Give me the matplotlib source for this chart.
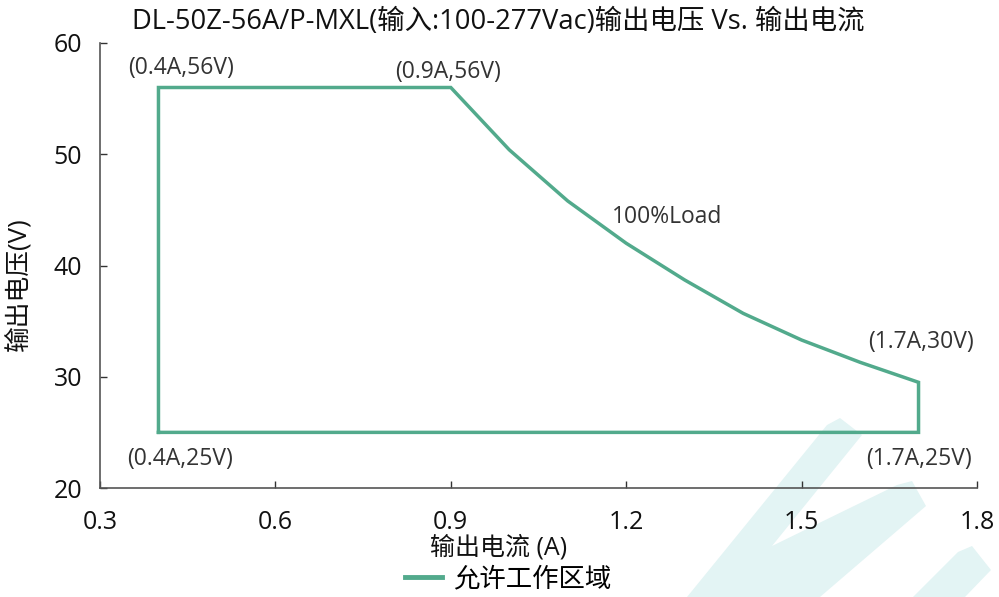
import matplotlib
matplotlib.use("Agg")
import matplotlib.pyplot as plt
from matplotlib.patches import Polygon
from matplotlib.lines import Line2D

plt.rcParams["font.family"] = ["Open Sans", "Noto Sans CJK SC", "DejaVu Sans"]

# boundary of the allowed operating area (current A, voltage V)
current = [0.4, 0.4, 0.9, 1.0, 1.1, 1.2, 1.3, 1.4, 1.5, 1.6, 1.7, 1.7, 0.4]
voltage = [25, 56, 56, 50.4, 45.8, 42.0, 38.7, 35.7, 33.3, 31.3, 29.5, 25, 25]

labels = ["(0.4A,56V)", "(0.9A,56V)", "100%Load", "(1.7A,30V)", "(1.7A,25V)", "(0.4A,25V)"]
label_x = [0.348, 0.805, 1.176, 1.613, 1.61, 0.346]
label_y = [57.75, 57.4, 44.4, 33.1, 22.6, 22.6]

xticks = [0.3, 0.6, 0.9, 1.2, 1.5, 1.8]
yticks = [20, 30, 40, 50, 60]

GREEN = "#52aa8c"
DARK = "#333333"
BLACK = "#111111"

fig = plt.figure(figsize=(9.99, 5.97), dpi=100)
W, H = 999, 597


def fx(px):
    return px / W


def fy(py):
    return 1 - py / H


# faint watermark logo in the lower right
wm = [
    [(827, 425), (840, 418), (862, 435), (772, 546), (897, 485), (912, 481),
     (926, 506), (820, 597), (687, 597)],
    [(958, 552), (972, 546), (991, 570), (965, 597), (913, 597)],
]
for pts in wm:
    fig.patches.append(Polygon([(fx(x), fy(y)) for x, y in pts], closed=True,
                               transform=fig.transFigure, facecolor="#e3f4f4",
                               edgecolor="none", zorder=-5))

ax = fig.add_axes([fx(100), fy(488), 877 / W, 445 / H])
ax.patch.set_alpha(0)

ax.plot(current, voltage, color=GREEN, linewidth=2.5, solid_joinstyle="miter")

for t, x, y in zip(labels, label_x, label_y):
    ax.text(x, y, t, fontsize=16.5, color=DARK, va="center", ha="left")

ax.set_xlim(0.3, 1.8)
ax.set_ylim(20, 60)
ax.set_xticks(xticks)
ax.set_yticks(yticks)
ax.set_xticklabels([f"{v:.1f}" for v in xticks])
ax.tick_params(direction="in", length=5, width=1, colors=DARK, labelsize=18,
               labelcolor=BLACK)
ax.tick_params(axis="x", pad=16)
ax.tick_params(axis="y", pad=13)
for s in ["top", "right"]:
    ax.spines[s].set_visible(False)
for s in ["left", "bottom"]:
    ax.spines[s].set_color("#555555")
    ax.spines[s].set_linewidth(1.2)

fig.text(fx(499), fy(548), "输出电流 (A)", fontsize=18, color=BLACK,
         ha="center", va="center")
fig.text(fx(18), fy(284), "输出电压(V)", fontsize=18.5, color=BLACK,
         ha="center", va="center", rotation=90)
fig.text(fx(498), fy(22), "DL-50Z-56A/P-MXL(输入:100-277Vac)输出电压 Vs. 输出电流",
         fontsize=19.7, color=BLACK, ha="center", va="center")

handle = Line2D([], [], color=GREEN, linewidth=3.5)
fig.legend([handle], ["允许工作区域"], loc="center", bbox_to_anchor=(fx(508), fy(580)),
           frameon=False, fontsize=19, handlelength=1.4, handletextpad=0.4,
           borderpad=0)

fig.savefig("out.png", dpi=100)
